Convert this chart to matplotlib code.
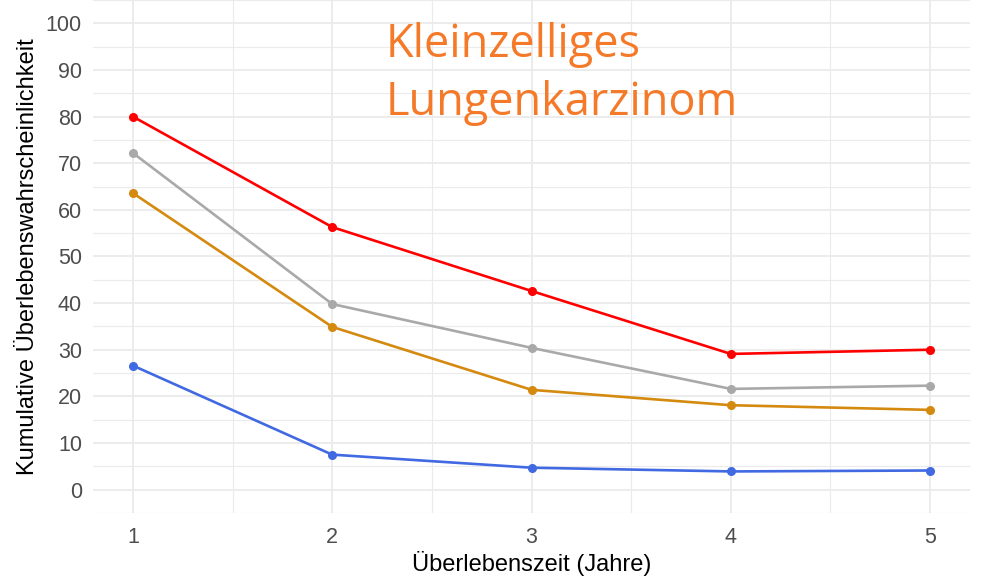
import matplotlib
matplotlib.use("Agg")
import matplotlib.pyplot as plt
import numpy as np

# Survival data
years = [1, 2, 3, 4, 5]
red_vals = [80.0, 56.3, 42.6, 29.1, 30.0]
grey_vals = [72.2, 39.8, 30.4, 21.6, 22.3]
orange_vals = [63.6, 34.9, 21.4, 18.1, 17.1]
blue_vals = [26.6, 7.5, 4.7, 3.9, 4.1]

series = [
    (red_vals, "#ff0000"),
    (grey_vals, "#a9a9a9"),
    (orange_vals, "#d4890f"),
    (blue_vals, "#4169e1"),
]

title_lines = ["Kleinzelliges", "Lungenkarzinom"]

W, H = 981, 576
fig = plt.figure(figsize=(W / 100, H / 100), dpi=100)
ax = fig.add_axes([93 / W, 62.6 / H, 877 / W, 513.4 / H])

for vals, col in series:
    ax.plot(years, vals, color=col, lw=1.9, marker="o", ms=5.5, zorder=3)

ax.set_xticks(years)
ax.set_yticks(np.arange(0, 101, 10))
ax.set_xticks(np.arange(0.5, 5.6, 1.0), minor=True)
ax.set_yticks(np.arange(-5, 106, 10), minor=True)
# limits after ticks, otherwise minor ticks widen the view
ax.set_xlim(0.8, 5.2)
ax.set_ylim(-5.1, 105)
ax.grid(which="major", color="#ebebeb", lw=1.3)
ax.grid(which="minor", color="#ebebeb", lw=0.8)
ax.set_axisbelow(True)
for s in ax.spines.values():
    s.set_visible(False)
ax.tick_params(which="both", length=0)
ax.tick_params(axis="x", labelsize=15.5, labelcolor="#4d4d4d", pad=10)
ax.tick_params(axis="y", labelsize=15.5, labelcolor="#4d4d4d", pad=8)
for lab in ax.get_xticklabels() + ax.get_yticklabels():
    lab.set_family("Liberation Sans")

ax.set_xlabel("Überlebenszeit (Jahre)", fontsize=17, family="Liberation Sans",
              color="black", labelpad=2)
ax.set_ylabel("Kumulative Überlebenswahrscheinlichkeit", fontsize=17,
              family="Liberation Sans", color="black", labelpad=5)

# overlay title, two lines placed on their baselines
for line, base in zip(title_lines, [57, 115]):
    fig.text(386 / W, 1 - base / H, line, fontsize=32.5, color="#f47a2a",
             family="Open Sans", ha="left", va="baseline")

fig.savefig("out.png", dpi=100)
